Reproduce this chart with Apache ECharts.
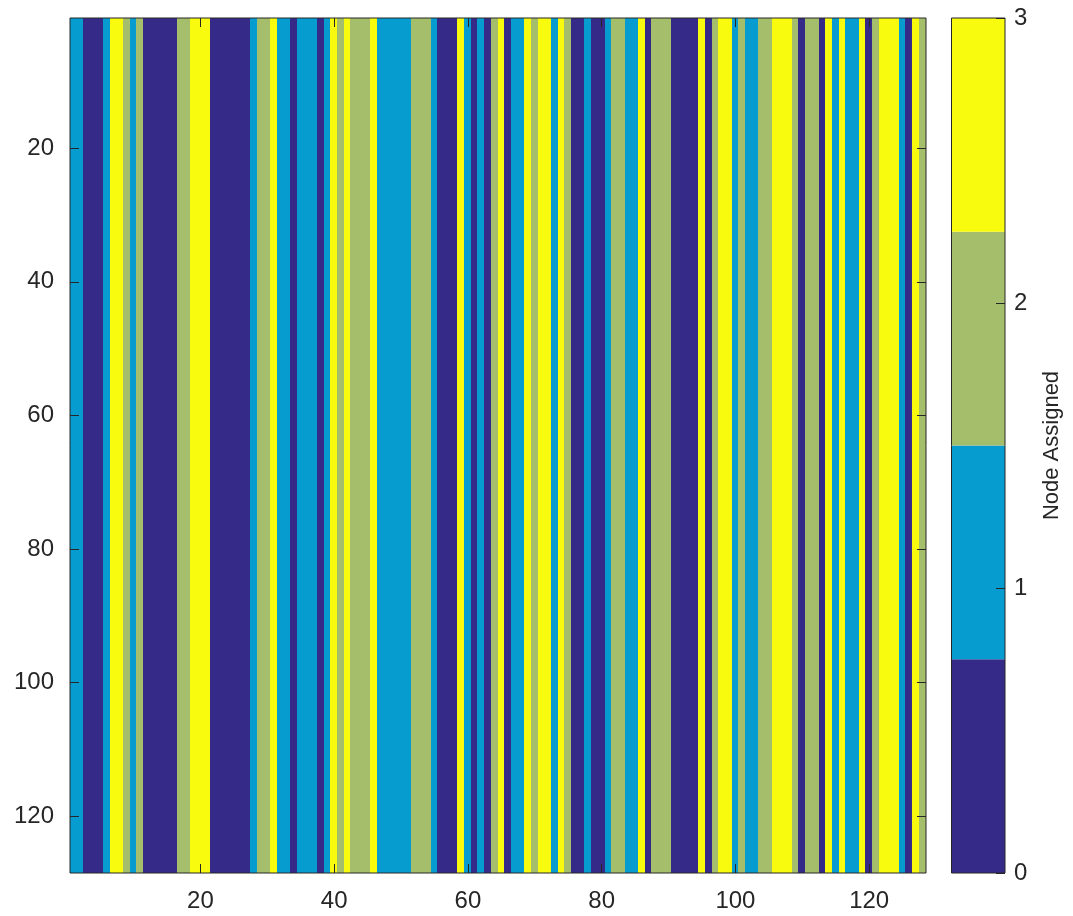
<!DOCTYPE html>
<html>
<head>
<meta charset="utf-8">
<title>Node Assigned</title>
<script src="https://cdn.jsdelivr.net/npm/echarts@6/dist/echarts.min.js"></script>
<style>
  html, body { margin: 0; padding: 0; background: #ffffff; }
  #chart { width: 1073px; height: 916px; }
</style>
</head>
<body>
<div id="chart"></div>
<script>
// Node assigned to each of the 128 columns (every row repeats the same assignment)
const nodeAssigned = [
  1, 1, 0, 0, 0, 1, 3, 3, 2, 1, 2, 0, 0, 0, 0, 0,
  2, 2, 3, 3, 3, 0, 0, 0, 0, 0, 0, 1, 2, 2, 3, 1,
  1, 0, 1, 1, 1, 0, 1, 3, 2, 3, 2, 2, 2, 3, 1, 1,
  1, 1, 1, 2, 2, 2, 1, 0, 0, 0, 3, 1, 0, 1, 0, 2,
  3, 0, 1, 1, 3, 2, 3, 3, 1, 3, 2, 0, 0, 1, 0, 0,
  1, 2, 2, 1, 1, 3, 0, 2, 2, 2, 0, 0, 0, 0, 3, 0,
  2, 3, 3, 1, 2, 1, 1, 2, 2, 3, 3, 3, 2, 0, 2, 2,
  0, 3, 1, 3, 1, 1, 3, 0, 2, 3, 3, 3, 1, 0, 3, 2
];
const rowCount = 128;

// Node levels and their colours (parula, 4 entries)
const nodeLevels = [0, 1, 2, 3];
const nodeColors = ['#352A87', '#079CCF', '#A5BE6B', '#F9FB0E'];

// Colour limits and tick labels
const colorRange = [0, 3];
const axisTickValues = [20, 40, 60, 80, 100, 120];
const colorbarTicks = [0, 1, 2, 3];

const textColor = '#262626';
const fontFamily = 'Liberation Sans, Arial, Helvetica, sans-serif';
const fontSize = 24;

const colIndex = Array.from({ length: nodeAssigned.length }, (_, i) => String(i + 1));
const rowIndex = Array.from({ length: rowCount }, (_, i) => String(i + 1));

// One item per column: [column index, node]
const columnData = nodeAssigned.map((v, i) => [i, v]);

// Each column is one cell spanning every row, placed through the axes
function renderColumn(params, api) {
  const c = api.value(0);
  const size = api.size([1, 1]);
  const first = api.coord([c, 0]);
  const last = api.coord([c, rowCount - 1]);
  const x0 = Math.floor(first[0] - size[0] / 2);
  const x1 = Math.ceil(first[0] + size[0] / 2);
  const y0 = Math.floor(first[1] - size[1] / 2);
  const y1 = Math.ceil(last[1] + size[1] / 2);
  return {
    type: 'rect',
    shape: { x: x0, y: y0, width: x1 - x0, height: y1 - y0 },
    style: { fill: api.visual('color') }
  };
}

// Colour bar bands: the colour range split evenly among the levels
const bandSize = (colorRange[1] - colorRange[0]) / nodeLevels.length;
const colorbarSeries = nodeLevels.map((lvl, i) => ({
  type: 'bar',
  xAxisIndex: 2,
  yAxisIndex: 2,
  stack: 'cbar',
  barWidth: '100%',
  silent: true,
  itemStyle: { color: nodeColors[i] },
  data: [bandSize]
}));

const isTickIndex = (idx) => axisTickValues.indexOf(idx + 1) !== -1;

const chart = echarts.init(document.getElementById('chart'), null, { renderer: 'canvas' });

const mainGrid = { left: 70, top: 18, width: 856, height: 855 };
const barGrid = { left: 951.5, top: 18, width: 53.5, height: 855 };
const boxStyle = { show: true, borderColor: textColor, borderWidth: 1, backgroundColor: 'transparent', z: 10 };

const tickStyle = { show: true, inside: true, length: 9, alignWithLabel: true, interval: isTickIndex,
                    lineStyle: { color: textColor, width: 1 } };

chart.setOption({
  backgroundColor: '#ffffff',
  animation: false,
  textStyle: { fontFamily: fontFamily },
  grid: [
    Object.assign({}, boxStyle, mainGrid),
    Object.assign({}, boxStyle, barGrid)
  ],
  xAxis: [
    {
      type: 'category', gridIndex: 0, data: colIndex, position: 'bottom', z: 10,
      axisLine: { show: false },
      axisTick: tickStyle,
      axisLabel: { show: true, interval: isTickIndex, color: textColor, fontSize: fontSize,
                   fontFamily: fontFamily, margin: 16 },
      splitLine: { show: false }
    },
    {
      type: 'category', gridIndex: 0, data: colIndex, position: 'top', z: 10,
      axisLine: { show: false },
      axisTick: tickStyle,
      axisLabel: { show: false },
      splitLine: { show: false }
    },
    {
      type: 'category', gridIndex: 1, data: [''],
      axisLine: { show: false }, axisTick: { show: false }, axisLabel: { show: false },
      splitLine: { show: false }
    }
  ],
  yAxis: [
    {
      type: 'category', gridIndex: 0, data: rowIndex, inverse: true, position: 'left', z: 10,
      axisLine: { show: false },
      axisTick: tickStyle,
      axisLabel: { show: true, interval: isTickIndex, color: textColor, fontSize: fontSize,
                   fontFamily: fontFamily, margin: 16 },
      splitLine: { show: false }
    },
    {
      type: 'category', gridIndex: 0, data: rowIndex, inverse: true, position: 'right', z: 10,
      axisLine: { show: false },
      axisTick: tickStyle,
      axisLabel: { show: false },
      splitLine: { show: false }
    },
    {
      type: 'value', gridIndex: 1, position: 'right', z: 10,
      min: colorRange[0], max: colorRange[1], interval: 1,
      name: 'Node Assigned', nameLocation: 'middle', nameRotate: 90, nameGap: 36,
      nameTextStyle: { color: textColor, fontSize: fontSize - 2, fontFamily: fontFamily },
      axisLine: { show: false },
      axisTick: { show: true, inside: true, length: 9, lineStyle: { color: textColor, width: 1 } },
      axisLabel: {
        show: true, color: textColor, fontSize: fontSize, fontFamily: fontFamily, margin: 9,
        formatter: (v) => (colorbarTicks.indexOf(v) !== -1 ? String(v) : '')
      },
      splitLine: { show: false }
    }
  ],
  visualMap: {
    type: 'piecewise',
    show: false,
    seriesIndex: 0,
    dimension: 1,
    pieces: nodeLevels.map((lvl, i) => ({ value: lvl, color: nodeColors[i] }))
  },
  series: [
    {
      type: 'custom',
      xAxisIndex: 0,
      yAxisIndex: 0,
      data: columnData,
      silent: true,
      encode: { x: 0 },
      renderItem: renderColumn
    }
  ].concat(colorbarSeries)
});
</script>
</body>
</html>
